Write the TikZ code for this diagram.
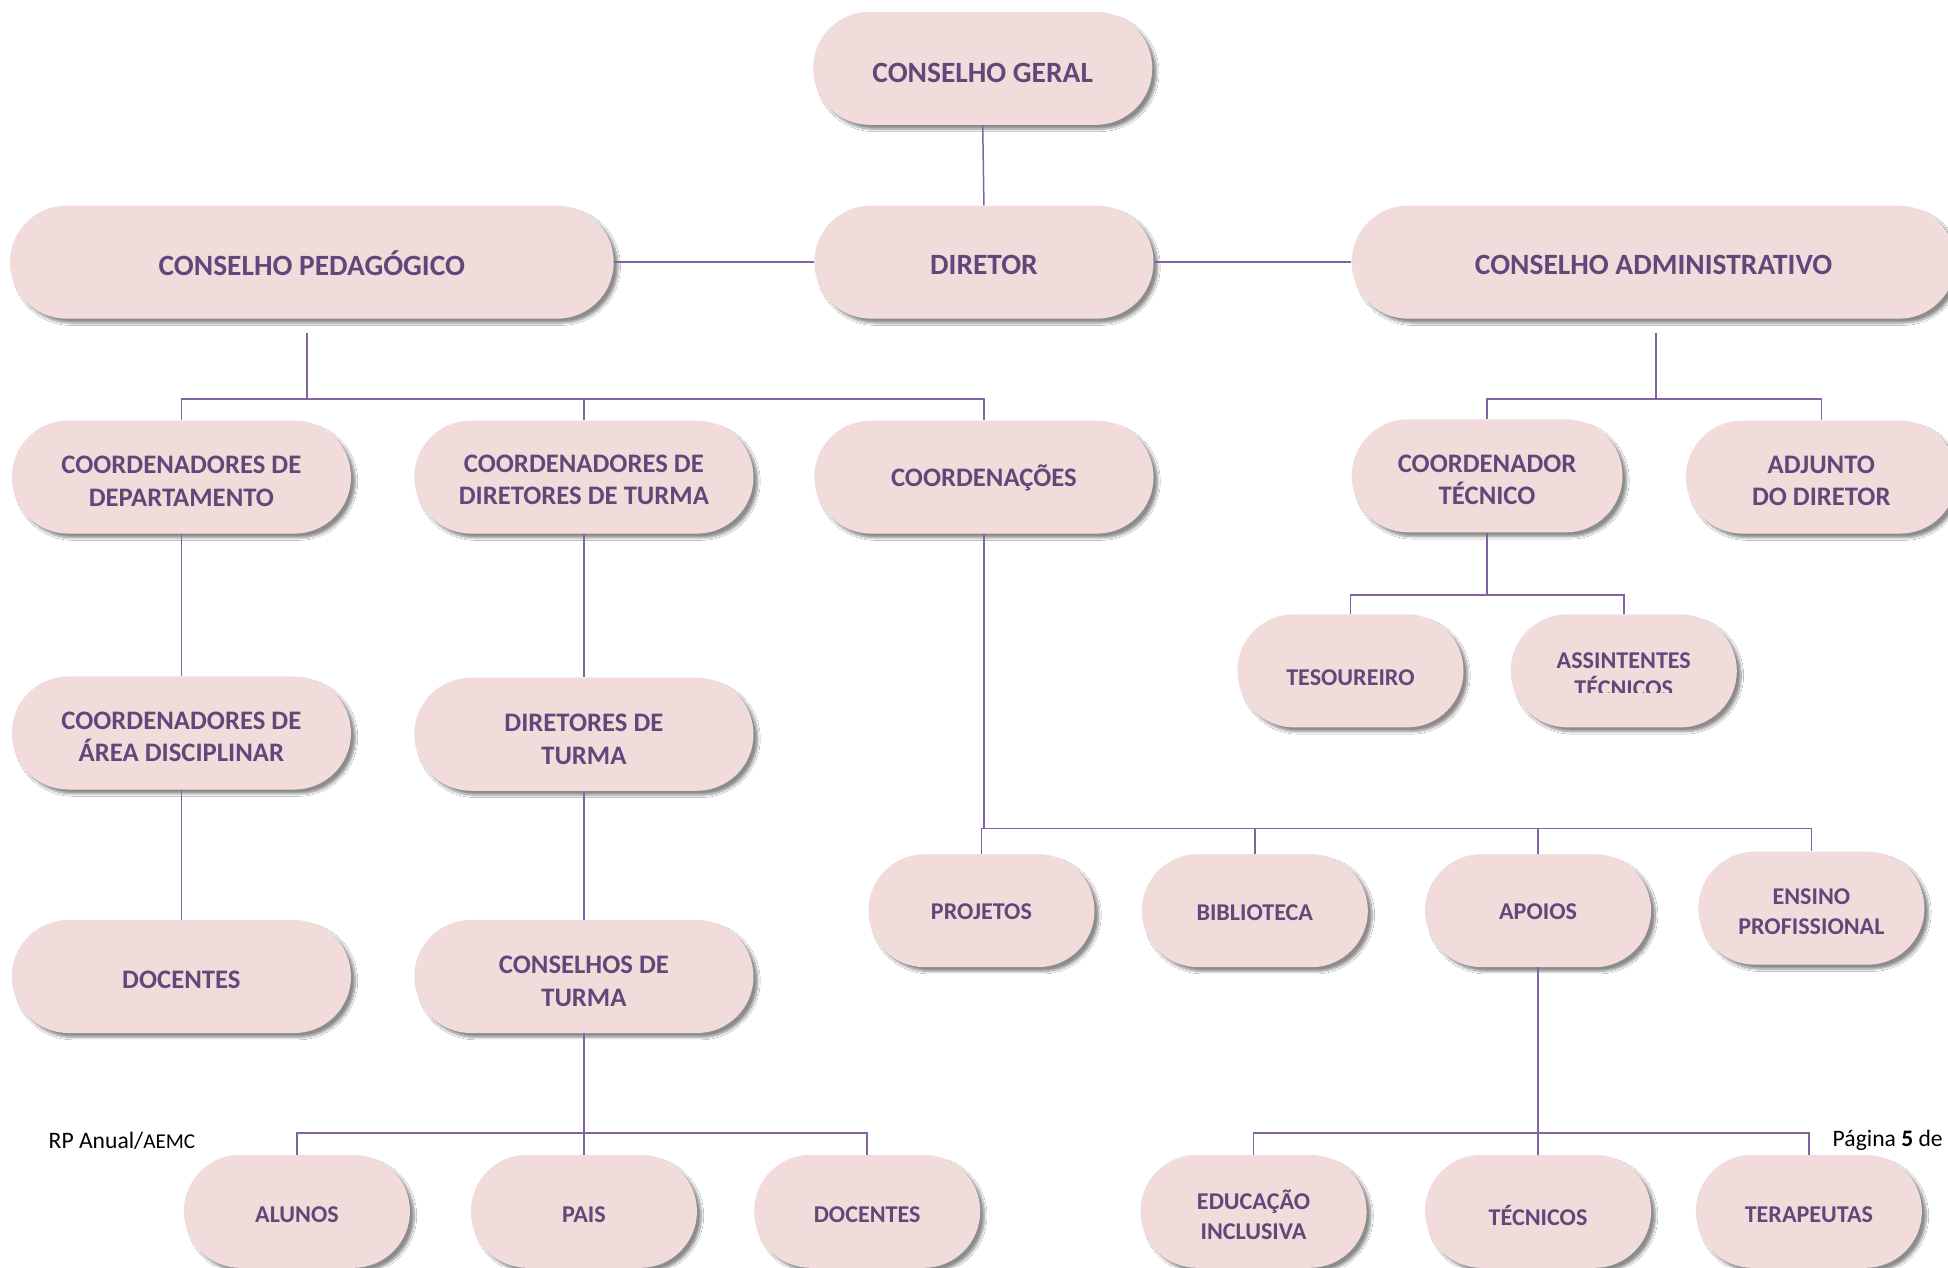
\documentclass[tikz,border=0pt]{standalone}
\usepackage{fontspec}
\setmainfont{Carlito}
\usetikzlibrary{shapes.misc,shadows.blur,calc}
\definecolor{boxfill}{HTML}{F2DCDB}
\definecolor{txtc}{HTML}{5F497A}
\definecolor{connc}{HTML}{8064A2}
% \obox{shape style}{name}{x,y}{text style}{text}{text offset}
\newcommand{\obox}[6]{%
  \node[#1] (#2) at (#3) {};
  \node[lbl, #4] (#2t) at ($(#2)+(0,#6)$) {#5};}
\begin{document}
\begin{tikzpicture}[x=1pt,y=-1pt,
  box/.style={rounded rectangle, fill=boxfill, minimum height=91pt, inner sep=0pt,
    blur shadow={shadow xshift=3.5pt, shadow yshift=-3.5pt, shadow blur steps=8, shadow opacity=45}},
  lbl/.style={text=txtc, align=center, inner sep=0pt},
  top/.style={font=\bfseries\fontsize{23.7}{28}\selectfont},
  mid/.style={font=\bfseries\fontsize{21.5}{26}\selectfont},
  sml/.style={font=\bfseries\fontsize{19.4}{24}\selectfont},
  wide/.style={box, minimum width=273pt},
  huge/.style={box, minimum width=486pt},
  narrow/.style={box, minimum width=218pt},
  small/.style={box, minimum width=182pt},
  conn/.style={draw=connc, line width=1.2pt},
  foot/.style={anchor=west, text=black, font=\fontsize{19}{22}\selectfont, inner sep=0pt}]
\clip (0,0) rectangle (1568,1020);
\fill[white] (0,0) rectangle (1568,1020);

% bus levels
\coordinate (b1) at (0,321);
\coordinate (b2) at (0,479);
\coordinate (b3) at (0,667);
\coordinate (b4) at (0,912);

\obox{wide}{cg}{791,55}{top}{CONSELHO GERAL}{4}
\obox{wide}{dir}{792,211}{top}{DIRETOR}{2}
\obox{huge}{cp}{251,211}{top}{CONSELHO PEDAGÓGICO}{1}
\obox{huge}{ca}{1331,211}{top}{CONSELHO ADMINISTRATIVO}{2}

\obox{wide}{cdep}{146,384}{mid}{COORDENADORES DE\\DEPARTAMENTO}{3.5}
\obox{wide}{cdt}{470,384}{mid}{COORDENADORES DE\\DIRETORES DE TURMA}{2}
\obox{wide}{coo}{792,384}{mid}{COORDENAÇÕES}{1}
\obox{narrow}{ctec}{1197,383}{mid}{COORDENADOR\\TÉCNICO}{3}
\obox{narrow}{adj}{1466,384}{mid}{ADJUNTO\\DO DIRETOR}{3}

\obox{small}{tes}{1087,540}{sml}{TESOUREIRO}{5.5}
\node[small] (ast) at (1307,540) {};
\begin{scope}
  \clip (1200,480) rectangle (1420,557.5);
  \node[lbl, font=\bfseries\fontsize{19.4}{22}\selectfont] (astt) at (1307,543) {ASSINTENTES\\TÉCNICOS};
\end{scope}

\obox{wide}{area}{146,590}{mid}{COORDENADORES DE\\ÁREA DISCIPLINAR}{3}
\obox{wide}{dtur}{470,591}{mid}{DIRETORES DE\\TURMA}{4}
\obox{wide}{doc1}{146,786}{mid}{DOCENTES}{3}
\obox{wide}{ctur}{470,786}{mid}{CONSELHOS DE\\TURMA}{4}

\obox{small}{proj}{790,733}{sml}{PROJETOS}{1}
\obox{small}{bib}{1010,733}{sml}{BIBLIOTECA}{2}
\obox{small}{apo}{1238,733}{sml}{APOIOS}{1}
\obox{small}{ens}{1458,731}{sml}{ENSINO\\PROFISSIONAL}{3}

\obox{small}{alu}{239,975}{sml}{ALUNOS}{3}
\obox{small}{pais}{470,975}{sml}{PAIS}{3}
\obox{small}{doc2}{698,975}{sml}{DOCENTES}{3}

\obox{small}{edu}{1009,975}{sml}{EDUCAÇÃO\\INCLUSIVA}{3}
\obox{small}{tecn}{1238,975}{sml}{TÉCNICOS}{3}
\obox{small}{ter}{1456,975}{sml}{TERAPEUTAS}{3}

% connectors
\draw[conn] (cg.south) -- (dir.north);
\draw[conn] (cp.east) -- (dir.west);
\draw[conn] (dir.east) -- (ca.west);

\draw[conn] ($(cp.south)+(-4,11)$) -- ($(cp.south |- b1)+(-4,0)$);
\draw[conn] (cdep.north) -- (cdep.north |- b1) -- (coo.north |- b1) -- (coo.north);
\draw[conn] (cdt.north) -- (cdt.north |- b1);

\draw[conn] ($(ca.south)+(2,11)$) -- ($(ca.south |- b1)+(2,0)$);
\draw[conn] (ctec.north) -- (ctec.north |- b1) -- (adj.north |- b1) -- (adj.north);

\draw[conn] (ctec.south) -- (ctec.south |- b2);
\draw[conn] (tes.north) -- (tes.north |- b2) -- (ast.north |- b2) -- (ast.north);

\draw[conn] (cdep.south) -- (area.north);
\draw[conn] (area.south) -- (doc1.north);
\draw[conn] (cdt.south) -- (dtur.north);
\draw[conn] (dtur.south) -- (ctur.north);

\draw[conn] (coo.south) -- (coo.south |- b3);
\draw[conn] (proj.north) -- (proj.north |- b3) -- (ens.north |- b3) -- (ens.north);
\draw[conn] (bib.north) -- (bib.north |- b3);
\draw[conn] (apo.north) -- (apo.north |- b3);

\draw[conn] (ctur.south) -- (ctur.south |- b4);
\draw[conn] (alu.north) -- (alu.north |- b4) -- (doc2.north |- b4) -- (doc2.north);
\draw[conn] (pais.north) -- (pais.north |- b4);

\draw[conn] (apo.south) -- (apo.south |- b4);
\draw[conn] (edu.north) -- (edu.north |- b4) -- (ter.north |- b4) -- (ter.north);
\draw[conn] (tecn.north) -- (tecn.north |- b4);

% footer
\node[foot] (fl) at (39,918) {RP Anual/{\fontsize{17}{20}\selectfont AEMC}};
\node[foot] (fr) at (1475,918) {Página \textbf{5} de};
\end{tikzpicture}
\end{document}
